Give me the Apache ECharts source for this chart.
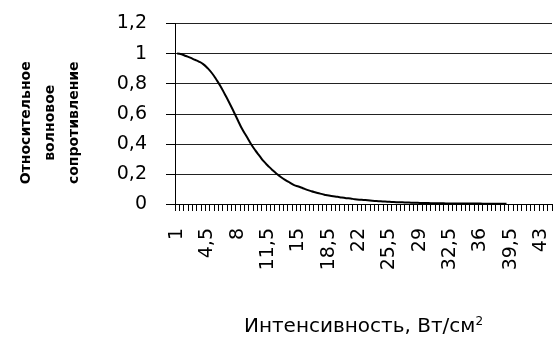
<!DOCTYPE html>
<html>
<head>
<meta charset="utf-8">
<script src="https://cdn.jsdelivr.net/npm/echarts@6/dist/echarts.min.js"></script>
<style>
  html, body { margin: 0; padding: 0; background: #fff; }
  #main { width: 558px; height: 345px; }
</style>
</head>
<body>
<div id="main"></div>
<script>
// интенсивность, Вт/см2 (шаг 0,5)
var categories = [
  '1', '1,5', '2', '2,5', '3', '3,5', '4', '4,5', '5', '5,5',
  '6', '6,5', '7', '7,5', '8', '8,5', '9', '9,5', '10', '10,5',
  '11', '11,5', '12', '12,5', '13', '13,5', '14', '14,5', '15', '15,5',
  '16', '16,5', '17', '17,5', '18', '18,5', '19', '19,5', '20', '20,5',
  '21', '21,5', '22', '22,5', '23', '23,5', '24', '24,5', '25', '25,5',
  '26', '26,5', '27', '27,5', '28', '28,5', '29', '29,5', '30', '30,5',
  '31', '31,5', '32', '32,5', '33', '33,5', '34', '34,5', '35', '35,5',
  '36', '36,5', '37', '37,5', '38', '38,5', '39', '39,5', '40', '40,5',
  '41', '41,5', '42', '42,5', '43', '43,5', '44'
];
// относительное волновое сопротивление
var resistance = [
  1.0, 0.995, 0.984, 0.973, 0.96, 0.947, 0.93, 0.904, 0.871, 0.829,
  0.783, 0.73, 0.675, 0.617, 0.557, 0.498, 0.45, 0.401, 0.358, 0.32,
  0.283, 0.253, 0.225, 0.2, 0.178, 0.159, 0.142, 0.126, 0.116, 0.105,
  0.094, 0.085, 0.077, 0.069, 0.062, 0.056, 0.052, 0.048, 0.043, 0.039,
  0.036, 0.032, 0.029, 0.027, 0.025, 0.022, 0.02, 0.018, 0.016, 0.015,
  0.013, 0.012, 0.011, 0.01, 0.009, 0.008, 0.007, 0.006, 0.006, 0.005,
  0.005, 0.005, 0.004, 0.004, 0.004, 0.004, 0.003, 0.003, 0.003, 0.003,
  0.003, 0.002, 0.002, 0.002, 0.002, 0.002, 0.002,
  null, null, null, null, null, null, null, null, null, null
];
var yTicks = [0, 0.2, 0.4, 0.6, 0.8, 1, 1.2];

var myChart = echarts.init(document.getElementById('main'));
var option = {
  animation: false,
  grid: { left: 175, right: 6, top: 23.5, bottom: 141, outerBoundsMode: 'none' },
  xAxis: {
    type: 'category',
    data: categories,
    boundaryGap: true,
    name: 'Интенсивность, Вт/см{sup|2}',
    nameLocation: 'middle',
    nameGap: 112,
    nameTextStyle: {
      fontFamily: 'DejaVu Sans', fontSize: 20, color: '#000',
      rich: { sup: { fontFamily: 'DejaVu Sans', fontSize: 12, verticalAlign: 'top', padding: [0, 0, 10, 0] } }
    },
    axisLine: { lineStyle: { color: '#000', width: 1 } },
    axisTick: { show: true, interval: 0, length: 7, lineStyle: { color: '#000' } },
    axisLabel: {
      interval: 6, rotate: 90, margin: 24,
      fontFamily: 'DejaVu Sans', fontSize: 19, color: '#000'
    },
    splitLine: { show: false }
  },
  yAxis: {
    type: 'value',
    min: 0, max: 1.2, interval: 0.2,
    name: 'Относительное\nволновое\nсопротивление',
    nameLocation: 'middle',
    nameRotate: 90,
    nameGap: 89,
    nameTextStyle: {
      fontFamily: 'DejaVu Sans', fontSize: 14, fontWeight: 'bold',
      color: '#000', lineHeight: 24, align: 'center',
      padding: [0, 18, 0, 0]
    },
    axisLine: { show: true, lineStyle: { color: '#000', width: 1 } },
    axisTick: { show: true, length: 9, lineStyle: { color: '#000' } },
    axisLabel: {
      margin: 28,
      fontFamily: 'DejaVu Sans', fontSize: 19, color: '#000',
      formatter: function (v) {
        var t = yTicks.find(function (k) { return Math.abs(k - v) < 1e-6; });
        return String(t === undefined ? v : t).replace('.', ',');
      }
    },
    splitLine: { show: true, lineStyle: { color: '#222', width: 1 } }
  },
  series: [
    {
      name: 'resistance',
      type: 'line',
      data: resistance,
      smooth: true,
      showSymbol: false,
      lineStyle: { color: '#000', width: 2 }
    }
  ]
};
myChart.setOption(option);
</script>
</body>
</html>
